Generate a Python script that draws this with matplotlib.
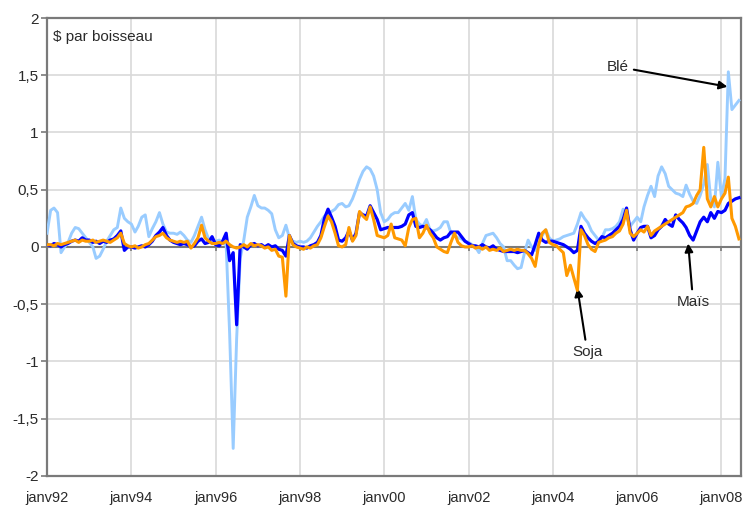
import matplotlib
matplotlib.use('Agg')
import matplotlib.pyplot as plt
import matplotlib.dates as mdates
import matplotlib.ticker as mticker
import pandas as pd

plt.rcParams['font.family'] = ['Liberation Sans', 'DejaVu Sans']

# Monthly data, janv 1992 -> juin 2008 ($ par boisseau)
months = pd.date_range('1992-01-01', periods=198, freq='MS')

ble = [
    0.12, 0.32, 0.34, 0.30, -0.05, 0.00, 0.04, 0.12, 0.17, 0.16, 0.12, 0.08,   # 1992
    0.04, 0.00, -0.10, -0.08, -0.02, 0.05, 0.10, 0.15, 0.17, 0.34, 0.25, 0.22, # 1993
    0.20, 0.13, 0.18, 0.26, 0.28, 0.09, 0.16, 0.22, 0.30, 0.20, 0.13, 0.12,    # 1994
    0.12, 0.11, 0.13, 0.10, 0.06, 0.04, 0.10, 0.18, 0.26, 0.15, 0.07, 0.03,    # 1995
    0.05, 0.06, 0.03, 0.02, -0.75, -1.76, -0.80, -0.10, 0.06, 0.26, 0.35, 0.45,  # 1996
    0.36, 0.34, 0.34, 0.32, 0.29, 0.15, 0.08, 0.10, 0.19, 0.08, 0.05, 0.04,    # 1997
    0.05, 0.04, 0.05, 0.08, 0.13, 0.18, 0.22, 0.27, 0.29, 0.31, 0.33, 0.37,    # 1998
    0.38, 0.35, 0.36, 0.42, 0.50, 0.59, 0.66, 0.70, 0.68, 0.62, 0.50, 0.30,    # 1999
    0.22, 0.24, 0.28, 0.30, 0.30, 0.34, 0.38, 0.32, 0.44, 0.24, 0.20, 0.18,    # 2000
    0.24, 0.15, 0.14, 0.15, 0.17, 0.22, 0.22, 0.12, 0.10, 0.08, 0.07, 0.05,    # 2001
    0.04, 0.02, 0.00, -0.05, 0.03, 0.10, 0.11, 0.12, 0.08, 0.03, 0.00, -0.12,  # 2002
    -0.12, -0.16, -0.19, -0.18, -0.05, 0.06, 0.00, -0.03, 0.08, 0.10, 0.15, 0.08,  # 2003
    0.05, 0.06, 0.07, 0.09, 0.10, 0.11, 0.12, 0.20, 0.30, 0.25, 0.21, 0.14,    # 2004
    0.10, 0.06, 0.08, 0.15, 0.15, 0.16, 0.18, 0.22, 0.33, 0.26, 0.18, 0.22,    # 2005
    0.26, 0.22, 0.35, 0.45, 0.53, 0.44, 0.62, 0.70, 0.64, 0.53, 0.50, 0.47,    # 2006
    0.46, 0.44, 0.54, 0.46, 0.40, 0.38, 0.45, 0.55, 0.72, 0.41, 0.35, 0.74,    # 2007
    0.44, 0.60, 1.53, 1.20, 1.24, 1.28,                                        # 2008
]

mais = [
    0.02, 0.01, 0.03, 0.02, 0.00, 0.02, 0.03, 0.05, 0.06, 0.05, 0.08, 0.06,    # 1992
    0.06, 0.04, 0.05, 0.03, 0.05, 0.04, 0.06, 0.07, 0.10, 0.14, -0.03, 0.00,   # 1993
    0.00, -0.01, 0.00, 0.01, 0.00, 0.02, 0.05, 0.10, 0.13, 0.17, 0.10, 0.06,   # 1994
    0.04, 0.03, 0.02, 0.03, 0.02, 0.00, 0.01, 0.05, 0.07, 0.03, 0.04, 0.09,    # 1995
    0.02, 0.01, 0.05, 0.12, -0.12, -0.05, -0.68, 0.02, 0.00, -0.02, 0.02, 0.03,  # 1996
    0.01, 0.02, 0.00, 0.02, 0.00, 0.01, -0.02, -0.03, -0.08, 0.10, 0.03, 0.01,  # 1997
    0.00, 0.00, -0.01, 0.01, 0.02, 0.04, 0.10, 0.25, 0.33, 0.26, 0.18, 0.06,   # 1998
    0.05, 0.08, 0.14, 0.06, 0.12, 0.30, 0.28, 0.27, 0.36, 0.30, 0.24, 0.15,    # 1999
    0.16, 0.17, 0.17, 0.17, 0.17, 0.18, 0.20, 0.28, 0.30, 0.18, 0.17, 0.18,    # 2000
    0.17, 0.15, 0.12, 0.08, 0.06, 0.08, 0.09, 0.13, 0.13, 0.13, 0.09, 0.05,    # 2001
    0.03, 0.01, 0.01, 0.00, 0.02, 0.00, -0.01, 0.01, -0.02, -0.03, -0.04, -0.04,  # 2002
    -0.04, -0.04, -0.05, -0.04, -0.03, -0.05, -0.07, 0.02, 0.12, 0.06, 0.04, 0.05,  # 2003
    0.05, 0.04, 0.03, 0.02, 0.00, -0.02, -0.05, -0.03, 0.18, 0.12, 0.08, 0.05,  # 2004
    0.03, 0.05, 0.09, 0.08, 0.10, 0.12, 0.15, 0.18, 0.24, 0.34, 0.15, 0.06,    # 2005
    0.12, 0.17, 0.18, 0.18, 0.08, 0.10, 0.15, 0.18, 0.24, 0.20, 0.18, 0.28,    # 2006
    0.24, 0.21, 0.17, 0.10, 0.06, 0.14, 0.22, 0.26, 0.22, 0.30, 0.25, 0.31,    # 2007
    0.30, 0.32, 0.38, 0.40, 0.42, 0.43,                                        # 2008
]

soja = [
    0.02, 0.02, 0.01, 0.03, 0.02, 0.03, 0.04, 0.05, 0.06, 0.04, 0.06, 0.05,    # 1992
    0.05, 0.06, 0.04, 0.05, 0.06, 0.05, 0.04, 0.06, 0.08, 0.12, 0.03, 0.01,    # 1993
    0.00, 0.01, -0.01, 0.00, 0.02, 0.03, 0.06, 0.09, 0.10, 0.12, 0.08, 0.06,   # 1994
    0.05, 0.04, 0.05, 0.04, 0.05, -0.01, 0.03, 0.08, 0.19, 0.08, 0.05, 0.03,   # 1995
    0.03, 0.04, 0.03, 0.05, 0.02, 0.00, -0.01, 0.00, 0.02, 0.00, 0.03, 0.01,   # 1996
    0.02, 0.01, -0.01, 0.00, -0.03, -0.02, -0.08, -0.09, -0.43, 0.10, 0.02, 0.00,  # 1997
    -0.01, -0.02, 0.00, -0.01, 0.01, 0.02, 0.08, 0.18, 0.27, 0.22, 0.12, 0.01,  # 1998
    0.00, 0.02, 0.17, 0.05, 0.10, 0.31, 0.27, 0.24, 0.35, 0.24, 0.10, 0.09,    # 1999
    0.08, 0.10, 0.20, 0.08, 0.07, 0.06, 0.01, 0.17, 0.24, 0.25, 0.08, 0.12,    # 2000
    0.19, 0.12, 0.08, 0.00, -0.02, -0.04, -0.05, 0.04, 0.12, 0.04, 0.01, 0.00,  # 2001
    0.00, 0.01, -0.01, 0.00, -0.02, 0.00, -0.03, -0.02, -0.03, -0.01, -0.04, -0.03,  # 2002
    -0.02, -0.03, -0.02, -0.03, -0.03, -0.06, -0.10, -0.17, 0.02, 0.12, 0.15, 0.04,  # 2003
    0.02, 0.01, -0.02, -0.05, -0.25, -0.16, -0.27, -0.38, 0.15, 0.10, 0.02, -0.02,  # 2004
    -0.04, 0.04, 0.05, 0.06, 0.08, 0.09, 0.12, 0.14, 0.20, 0.32, 0.12, 0.09,   # 2005
    0.12, 0.15, 0.13, 0.18, 0.10, 0.14, 0.16, 0.18, 0.20, 0.22, 0.24, 0.26,    # 2006
    0.28, 0.30, 0.35, 0.36, 0.38, 0.45, 0.50, 0.87, 0.42, 0.35, 0.44, 0.35,    # 2007
    0.42, 0.47, 0.61, 0.25, 0.18, 0.07,                                        # 2008
]

tick_years = list(range(1992, 2009, 2))
tick_labels = ['janv%02d' % (y % 100) for y in tick_years]
tick_dates = [pd.Timestamp('%d-01-01' % y) for y in tick_years]
y_ticks = [-2, -1.5, -1, -0.5, 0, 0.5, 1, 1.5, 2]

c_ble = '#99ccff'
c_mais = '#0000ff'
c_soja = '#ff9900'
axis_grey = '#7a7a7a'
text_col = '#2a2a2a'

fig = plt.figure(figsize=(7.47, 5.15), dpi=100)
ax = fig.add_axes([0.063, 0.076, 0.929, 0.889])

ax.plot(months, ble, color=c_ble, lw=2.1, solid_joinstyle='round', zorder=3)
ax.plot(months, mais, color=c_mais, lw=2.3, solid_joinstyle='round', zorder=4)
ax.plot(months, soja, color=c_soja, lw=2.2, solid_joinstyle='round', zorder=5)

ax.set_xlim(pd.Timestamp('1992-01-01'), pd.Timestamp('2008-06-19'))
ax.set_ylim(-2, 2)
ax.set_xticks(tick_dates)
ax.set_xticklabels(tick_labels)
ax.set_yticks(y_ticks)
ax.yaxis.set_major_formatter(mticker.FuncFormatter(lambda v, p: ('%g' % v).replace('.', ',')))

ax.grid(True, color='#d9d9d9', lw=1.2)
ax.set_axisbelow(True)

# Excel-style category axis crossing at zero
ax.axhline(0, color=axis_grey, lw=1.5, zorder=2)
ax.vlines(tick_dates, -0.035, 0, color=axis_grey, lw=1.2, zorder=2)

for s in ax.spines.values():
    s.set_color(axis_grey)
    s.set_linewidth(1.6)

ax.tick_params(axis='x', length=0, pad=11, labelsize=10.5, labelcolor=text_col)
ax.tick_params(axis='y', length=4, width=1.2, color=axis_grey, pad=2, labelsize=11, labelcolor=text_col)

ax.text(0.009, 0.958, '$ par boisseau', transform=ax.transAxes, ha='left', va='center',
        fontsize=11, color=text_col)

arrow = dict(arrowstyle='-|>', color='black', lw=1.5, mutation_scale=12, shrinkA=2, shrinkB=0)
ax.annotate('Blé', xy=(mdates.date2num(pd.Timestamp('2008-02-22')), 1.40),
            xytext=(mdates.date2num(pd.Timestamp('2005-07-13')), 1.575),
            ha='center', va='center', fontsize=11, color=text_col, arrowprops=arrow)
ax.annotate('Maïs', xy=(mdates.date2num(pd.Timestamp('2007-03-19')), 0.03),
            xytext=(mdates.date2num(pd.Timestamp('2007-05-01')), -0.48),
            ha='center', va='center', fontsize=11, color=text_col, arrowprops=arrow)
ax.annotate('Soja', xy=(mdates.date2num(pd.Timestamp('2004-08-01')), -0.36),
            xytext=(mdates.date2num(pd.Timestamp('2004-10-26')), -0.92),
            ha='center', va='center', fontsize=11, color=text_col, arrowprops=arrow)

fig.savefig('out.png', dpi=100)
